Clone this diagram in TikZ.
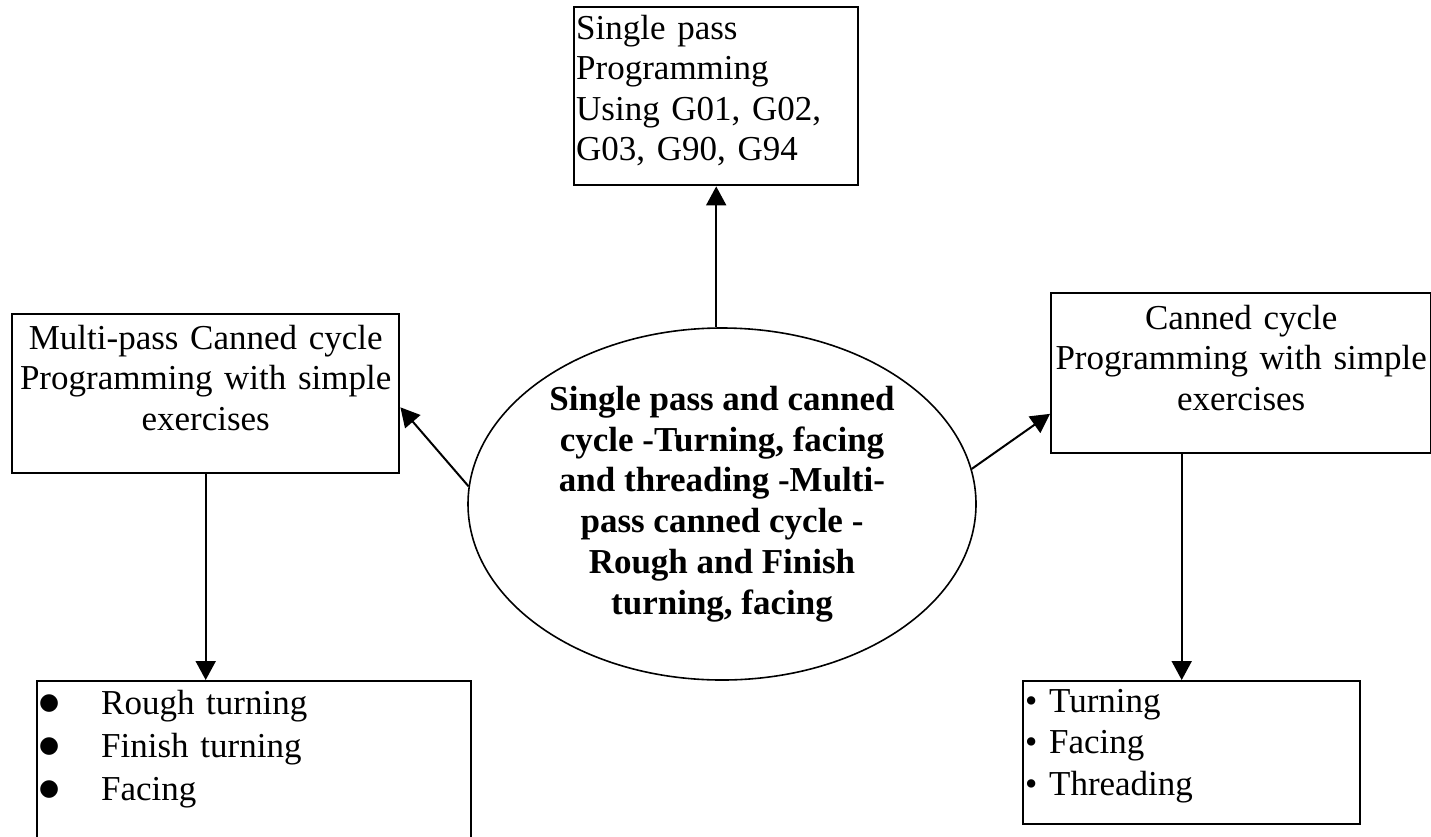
\documentclass[tikz,border=0pt]{standalone}
\usepackage{fontspec}
\setmainfont{Liberation Serif}
\newfontfamily\symfont{DejaVu Sans}
\usepackage{tikz}
\usetikzlibrary{arrows.meta, shapes.geometric, positioning, calc}
\tikzstyle{arrow} = [line width=2pt, -{Triangle[length=19pt, width=20pt]}]
\newcommand{\bigdot}{\makebox[62pt][l]{\raisebox{5pt}{\symfont\fontsize{23}{23}\selectfont ●}}}

\begin{document}
\begin{tikzpicture}[x=1pt, y=-1pt]
      % Define node style
      \tikzstyle{block} = [rectangle, draw, line width=2.4pt, inner xsep=2pt, inner ysep=0pt, font=\fontsize{35}{40.5}\selectfont]
      \useasboundingbox (0,0) rectangle (1431,836);

      % Centre ellipse
      \node [ellipse, draw, line width=1.6pt, inner sep=0pt, minimum width=508pt, minimum height=352pt, align=center,
             font=\fontsize{35}{40.7}\selectfont\bfseries] (cen) at (722,504)
            {Single pass and canned\\cycle -Turning, facing\\and threading -Multi-\\pass canned cycle -\\Rough and Finish\\turning, facing};

      % Boxes round it
      \node [block, anchor=north west, text width=280pt, align=left, text height=32pt, text depth=146pt] (top) at (573,6)
            {Single pass\\Programming\\Using G01, G02,\\G03, G90, G94};
      \node [block, anchor=north west, text width=383pt, align=center, text height=35pt, text depth=124pt] (lbox) at (11,313)
            {Multi-pass Canned cycle\\Programming with simple\\exercises};
      \node [block, anchor=north west, text width=376pt, align=center, text height=36pt, text depth=124pt] (rbox) at (1050,292)
            {Canned cycle\\Programming with simple\\exercises};

      % Bullet lists
      \node [block, anchor=north west, text width=430pt, align=left, text height=33pt, text depth=129pt,
             font=\fontsize{35}{43.3}\selectfont] (lbl) at (36,680)
            {\bigdot Rough turning\\\bigdot Finish turning\\\bigdot Facing};
      \node [block, anchor=north west, text width=333pt, align=left, text height=31pt, text depth=112pt,
             font=\fontsize{35}{41.7}\selectfont] (rbl) at (1022,680)
            {\textbullet\ Turning\\\textbullet\ Facing\\\textbullet\ Threading};

      % Arrows
      \draw [arrow] (cen.north -| top.south) -- (top.south);
      \draw [arrow] (cen.176) -- (lbox.-4);
      \draw [arrow] (cen.8) -- (rbox.192);
      \draw [arrow] (lbox.south) -- (lbox.south |- lbl.north);
      \draw [arrow] ($(rbox.south -| rbl.north)+(-10,0)$) -- ($(rbl.north)+(-10,0)$);
\end{tikzpicture}
\end{document}
